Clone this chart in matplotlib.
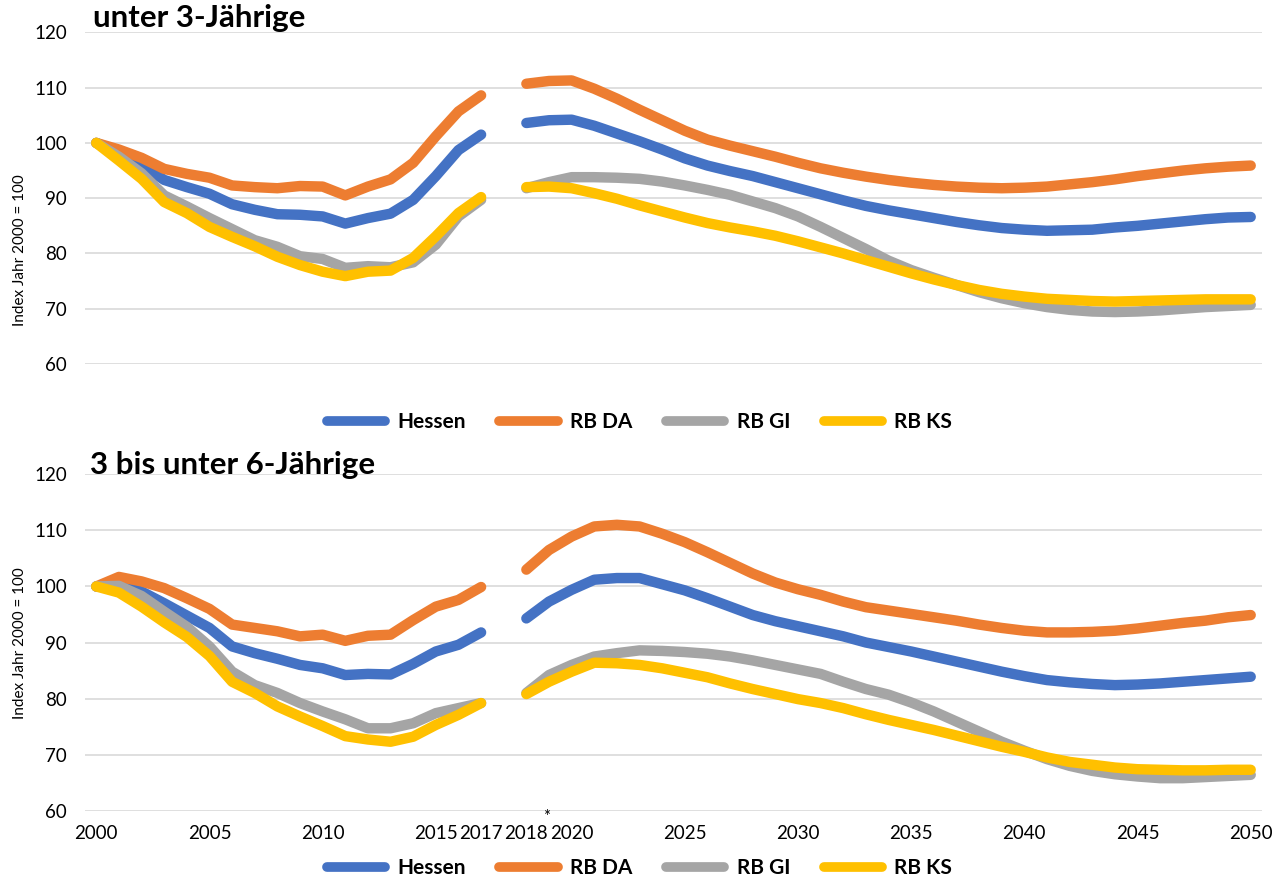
import matplotlib
matplotlib.use("Agg")
import matplotlib.pyplot as plt
from matplotlib.transforms import blended_transform_factory

plt.rcParams["font.family"] = ["Lato", "DejaVu Sans"]

# Years: history 2000-2017, projection 2018-2050 (one empty slot between)
hist_years = list(range(2000, 2018))
proj_years = list(range(2018, 2051))

series_names = ["Hessen", "RB DA", "RB GI", "RB KS"]
colors = ["#4472C4", "#ED7D31", "#A5A5A5", "#FFC000"]

tick_years = [2000, 2005, 2010, 2015, 2017, 2018, 2020, 2025, 2030, 2035, 2040, 2045, 2050]

# ---- unter 3-Jährige ----
u3_hessen_hist = [100, 98.3, 96.0, 93.3, 92.0, 90.8, 88.9, 87.9, 87.1, 87.0, 86.7, 85.4, 86.4, 87.2, 89.7, 94.0, 98.7, 101.5]
u3_da_hist = [100, 98.8, 97.3, 95.3, 94.4, 93.7, 92.3, 92.0, 91.8, 92.2, 92.1, 90.5, 92.1, 93.4, 96.4, 101.2, 105.7, 108.6]
u3_gi_hist = [100, 97.5, 94.5, 90.5, 88.5, 86.4, 84.4, 82.4, 81.2, 79.5, 79.0, 77.4, 77.7, 77.5, 78.4, 81.6, 86.7, 89.7]
u3_ks_hist = [100, 96.8, 93.5, 89.3, 87.3, 84.8, 83.0, 81.3, 79.4, 77.9, 76.7, 75.9, 76.7, 76.9, 79.2, 83.1, 87.3, 90.2]

u3_hessen_proj = [103.6, 104.1, 104.2, 103.1, 101.7, 100.3, 98.8, 97.2, 95.9, 94.9, 94.0, 92.9, 91.8, 90.7,
                  89.6, 88.6, 87.8, 87.1, 86.4, 85.7, 85.1, 84.6, 84.3, 84.1, 84.2, 84.3, 84.7, 85.0, 85.4,
                  85.8, 86.2, 86.5, 86.6]
u3_da_proj = [110.7, 111.2, 111.3, 109.8, 108.0, 106.0, 104.1, 102.2, 100.6, 99.5, 98.5, 97.5, 96.4, 95.4,
              94.6, 93.9, 93.3, 92.8, 92.4, 92.1, 91.9, 91.8, 91.9, 92.1, 92.5, 92.9, 93.4, 94.0, 94.5,
              95.0, 95.4, 95.7, 95.9]
u3_gi_proj = [91.8, 92.9, 93.8, 93.8, 93.7, 93.5, 93.0, 92.3, 91.5, 90.6, 89.4, 88.2, 86.7, 84.8,
              82.8, 80.8, 78.7, 77.0, 75.6, 74.3, 73.0, 71.9, 71.0, 70.3, 69.8, 69.5, 69.4, 69.5, 69.7,
              70.0, 70.3, 70.5, 70.7]
u3_ks_proj = [92.0, 92.1, 91.8, 90.9, 89.9, 88.7, 87.6, 86.5, 85.5, 84.7, 84.0, 83.2, 82.2, 81.1,
              80.0, 78.8, 77.6, 76.4, 75.3, 74.3, 73.4, 72.7, 72.2, 71.8, 71.6, 71.4, 71.3, 71.4, 71.5,
              71.6, 71.7, 71.7, 71.7]

# ---- 3 bis unter 6-Jährige ----
u6_hessen_hist = [100, 100.3, 99.1, 97.0, 94.8, 92.6, 89.3, 88.1, 87.1, 86.0, 85.4, 84.2, 84.4, 84.3, 86.2, 88.4, 89.6, 91.8]
u6_da_hist = [100, 101.7, 100.9, 99.7, 97.9, 96.0, 93.2, 92.6, 92.0, 91.1, 91.4, 90.3, 91.2, 91.4, 94.0, 96.4, 97.6, 99.9]
u6_gi_hist = [100, 100.1, 98.3, 95.5, 92.8, 89.3, 84.8, 82.4, 81.0, 79.2, 77.7, 76.3, 74.7, 74.7, 75.6, 77.4, 78.3, 79.2]
u6_ks_hist = [100, 98.9, 96.4, 93.6, 91.0, 87.6, 83.0, 81.0, 78.6, 76.8, 75.1, 73.3, 72.7, 72.3, 73.2, 75.3, 77.1, 79.2]

u6_hessen_proj = [94.3, 97.3, 99.4, 101.2, 101.5, 101.5, 100.4, 99.3, 97.9, 96.4, 94.9, 93.8, 92.9, 92.0,
                  91.1, 90.0, 89.2, 88.4, 87.5, 86.6, 85.7, 84.8, 84.0, 83.3, 82.9, 82.6, 82.4, 82.5, 82.7,
                  83.0, 83.3, 83.6, 83.9]
u6_da_proj = [103.0, 106.5, 108.9, 110.7, 111.0, 110.7, 109.4, 107.9, 106.1, 104.2, 102.3, 100.7, 99.5, 98.5,
              97.3, 96.3, 95.7, 95.1, 94.5, 93.9, 93.2, 92.6, 92.1, 91.8, 91.8, 91.9, 92.1, 92.5, 93.0,
              93.5, 93.9, 94.5, 94.9]
u6_gi_proj = [81.0, 84.2, 86.0, 87.5, 88.1, 88.6, 88.5, 88.3, 88.0, 87.5, 86.8, 86.0, 85.2, 84.4,
              83.0, 81.7, 80.7, 79.3, 77.7, 75.9, 74.1, 72.3, 70.7, 69.2, 68.0, 67.1, 66.5, 66.1, 65.8,
              65.8, 66.0, 66.2, 66.4]
u6_ks_proj = [80.8, 83.0, 84.8, 86.4, 86.3, 86.0, 85.4, 84.6, 83.8, 82.7, 81.7, 80.8, 79.9, 79.2,
              78.3, 77.2, 76.2, 75.3, 74.4, 73.4, 72.4, 71.4, 70.5, 69.5, 68.7, 68.2, 67.7, 67.4, 67.3,
              67.2, 67.2, 67.3, 67.3]


def year_pos(year):
    # category slot on the x axis, one blank slot after 2017
    return year - 2000 if year <= 2017 else year - 1999


def draw_panel(ax, hist_list, proj_list, show_xlabels):
    xh = [year_pos(y) for y in hist_years]
    xp = [year_pos(y) for y in proj_years]
    for name, color, hv, pv in zip(series_names, colors, hist_list, proj_list):
        ax.plot(xh, hv, color=color, lw=7.5, solid_capstyle="round",
                solid_joinstyle="round", label=name)
        ax.plot(xp, pv, color=color, lw=7.5, solid_capstyle="round",
                solid_joinstyle="round")

    ax.set_xlim(-0.5, 51.5)
    ax.set_ylim(60, 120)
    ax.set_yticks(range(60, 121, 10))
    ax.grid(axis="y", color="#D9D9D9", lw=1.2)
    ax.set_axisbelow(True)
    for s in ax.spines.values():
        s.set_visible(False)
    ax.tick_params(axis="y", length=0, labelsize=13.5, pad=13)

    ax.set_xticks([year_pos(y) for y in tick_years])
    if show_xlabels:
        ax.set_xticklabels([str(y) for y in tick_years])
        ax.tick_params(axis="x", length=0, labelsize=13.5, pad=10)
        trans = blended_transform_factory(ax.transData, ax.transAxes)
        # footnote marker sits just above the gap between 2018 and 2020
        ax.text(year_pos(2019) - 0.1, -0.018, "*", transform=trans, ha="center",
                va="center", fontsize=12)
    else:
        ax.tick_params(axis="x", length=0, labelbottom=False)


fig = plt.figure(figsize=(12.74, 8.81), dpi=100)

ax1 = fig.add_axes([0.0667, 0.5868, 0.9239, 0.3765])
ax2 = fig.add_axes([0.0667, 0.0798, 0.9239, 0.3818])

draw_panel(ax1,
           [u3_hessen_hist, u3_da_hist, u3_gi_hist, u3_ks_hist],
           [u3_hessen_proj, u3_da_proj, u3_gi_proj, u3_ks_proj],
           False)
draw_panel(ax2,
           [u6_hessen_hist, u6_da_hist, u6_gi_hist, u6_ks_hist],
           [u6_hessen_proj, u6_da_proj, u6_gi_proj, u6_ks_proj],
           True)

fig.text(93 / 1274, 1 - 18 / 881, "unter 3-Jährige", fontsize=22.5,
         fontweight="bold", va="center", ha="left")
fig.text(90 / 1274, 1 - 465 / 881, "3 bis unter 6-Jährige", fontsize=22.5,
         fontweight="bold", va="center", ha="left")

fig.text(20 / 1274, 1 - 250 / 881, "Index Jahr 2000 = 100", rotation=90,
         fontsize=11, va="center", ha="center")
fig.text(20 / 1274, 1 - 643 / 881, "Index Jahr 2000 = 100", rotation=90,
         fontsize=11, va="center", ha="center")

for ax, ypix in [(ax1, 422), (ax2, 868)]:
    leg = ax.legend(loc="center", bbox_to_anchor=(0.502, 1 - ypix / 881),
                    bbox_transform=fig.transFigure, ncol=4, frameon=False,
                    handlelength=2.8, handletextpad=0.6, columnspacing=1.6,
                    prop={"weight": "bold", "size": 15})
    for h in leg.get_lines():
        h.set_linewidth(7)

fig.savefig("out.png", dpi=100)
